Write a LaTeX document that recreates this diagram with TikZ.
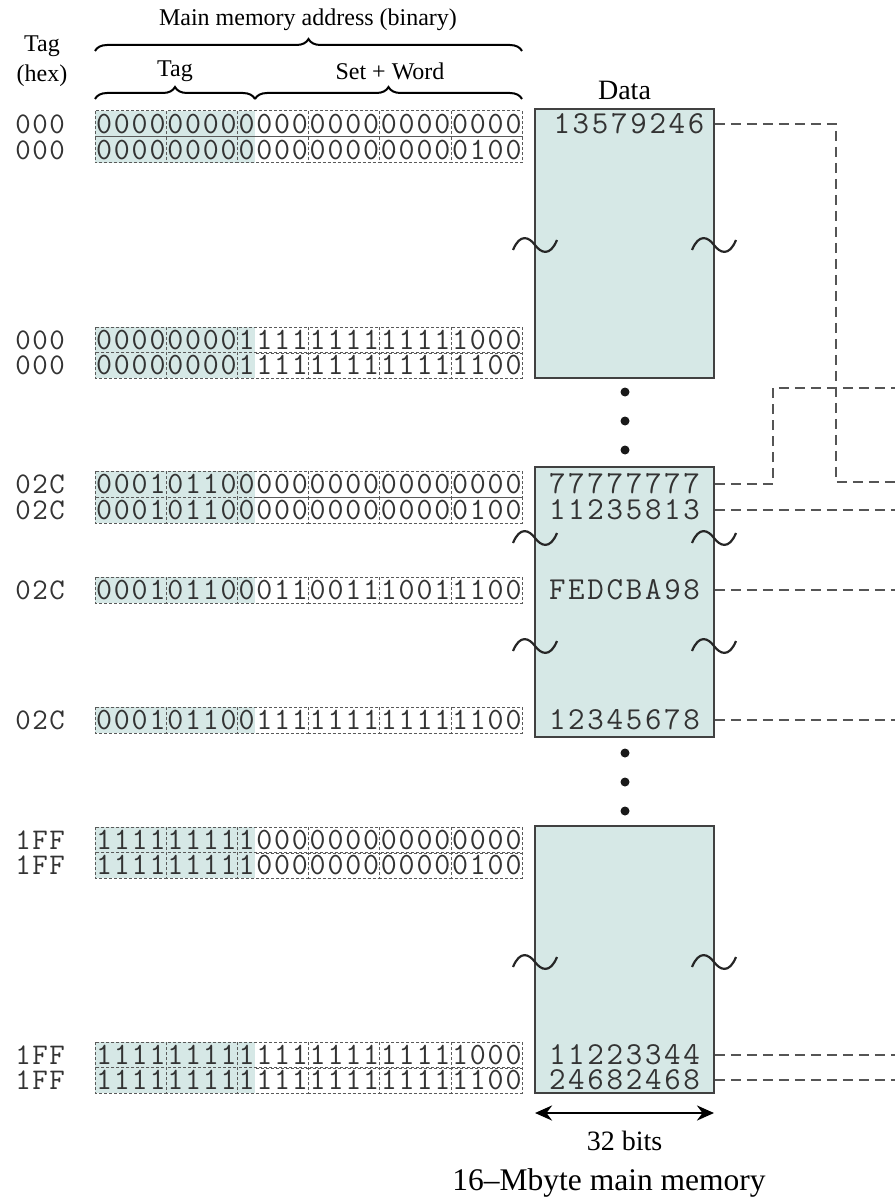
\documentclass[tikz,border=0pt]{standalone}
\usepackage{fontspec}
\setmainfont{Liberation Serif}
\usetikzlibrary{decorations.pathreplacing,arrows.meta}
\definecolor{shadefill}{RGB}{214,232,230}
\definecolor{boxline}{RGB}{65,65,65}
\definecolor{linkgray}{RGB}{85,85,85}
\definecolor{dotgray}{RGB}{90,90,90}

% spread characters in fixed-width cells
\newcommand\spc[2]{\def\spcw{#1}\spcaux#2\relax}
\def\spcaux#1{\ifx#1\relax\else\makebox[\spcw pt]{#1}\expandafter\spcaux\fi}

\tikzset{
  bits/.style={inner sep=0pt, anchor=west, text=black!80, font=\ttfamily\fontsize{31}{31}\selectfont},
  hex/.style={inner sep=0pt, text=black!80, font=\ttfamily\fontsize{30}{30}\selectfont},
  datatxt/.style={inner sep=0pt, text=black!80, font=\ttfamily\fontsize{32}{32}\selectfont},
  dotbox/.style={draw=dotgray, line width=1pt, dash pattern=on 3pt off 2pt},
  membox/.style={draw=boxline, line width=1.8pt, fill=shadefill, inner sep=0pt, minimum width=179pt},
  link/.style={draw=linkgray, line width=1.5pt, dash pattern=on 10pt off 6pt},
  tildestyle/.style={draw=black!85, line width=2.2pt},
  brc/.style={draw=black, line width=2pt, decorate, decoration={brace, amplitude=12pt}},
  lbl/.style={inner sep=0pt, font=\fontsize{24}{24}\selectfont},
  biglbl/.style={inner sep=0pt, font=\fontsize{31.5}{31.5}\selectfont},
}

\newcommand\addrrow[4]{%
  \fill[shadefill] (95,#1-13) rectangle (255.2,#1+13);
  \node[bits] (#4) at (95,#1) {\spc{17.8}{#2}};
  \node[hex] (#4h) at (40,#1) {\spc{17}{#3}};
  \foreach \k in {0,...,5} {\draw[dotbox] (95+\k*71.2,#1-13) rectangle (95+\k*71.2+71.2,#1+13);}
}
\newcommand\tld[2]{\draw[tildestyle] (#1-22,#2+5) .. controls (#1-15,#2-12) and (#1-6,#2-8) .. (#1,#2) .. controls (#1+6,#2+8) and (#1+15,#2+12) .. (#1+22,#2-5);}

\begin{document}
\begin{tikzpicture}[x=1pt,y=-1pt]
\useasboundingbox (0,0) rectangle (895,1198);

% header labels
\node[lbl] (hdr) at (308,20) {Main memory address (binary)};
\node[lbl] (tagtop) at (42,46) {Tag};
\node[lbl] (hexlbl) at (42,76) {(hex)};
\node[lbl] (taglbl) at (175,71) {Tag};
\node[lbl] (swlbl) at (390,71) {Set + Word};
\node[biglbl, font=\fontsize{28}{28}\selectfont] (datalbl) at (624.5,90) {Data};
\draw[brc] (95,51) -- (522,51);
\draw[brc] (95,99) -- (255,99);
\draw[brc] (255,99) -- (522,99);

% memory blocks
\node[membox, minimum height=269pt] (m1) at (624.5,243.5) {};
\node[membox, minimum height=270pt] (m2) at (624.5,602) {};
\node[membox, minimum height=267pt] (m3) at (624.5,959.5) {};

% address rows
\addrrow{124}{000000000000000000000000}{000}{a1}
\addrrow{150}{000000000000000000000100}{000}{a2}
\addrrow{340}{000000001111111111111000}{000}{a3}
\addrrow{365}{000000001111111111111100}{000}{a4}
\addrrow{484}{000101100000000000000000}{02C}{a5}
\addrrow{510}{000101100000000000000100}{02C}{a6}
\addrrow{590}{000101100011001110011100}{02C}{a7}
\addrrow{720}{000101100111111111111100}{02C}{a8}
\addrrow{840}{111111111000000000000000}{1FF}{a9}
\addrrow{865}{111111111000000000000100}{1FF}{a10}
\addrrow{1055}{111111111111111111111000}{1FF}{a11}
\addrrow{1080}{111111111111111111111100}{1FF}{a12}

% data words
\node[datatxt] (d1) at (629,124) {\spc{19.2}{13579246}};
\node[datatxt] (d5) at (624.5,484) {\spc{19.2}{77777777}};
\node[datatxt] (d6) at (624.5,510) {\spc{19.2}{11235813}};
\node[datatxt] (d7) at (624.5,590) {\spc{19.2}{FEDCBA98}};
\node[datatxt] (d8) at (624.5,720) {\spc{19.2}{12345678}};
\node[datatxt] (d11) at (624.5,1055) {\spc{19.2}{11223344}};
\node[datatxt] (d12) at (624.5,1080) {\spc{19.2}{24682468}};

% break marks
\tld{535}{245} \tld{714}{245}
\tld{535}{538} \tld{714}{538}
\tld{535}{646} \tld{714}{646}
\tld{535}{962} \tld{714}{962}

% ellipsis dots
\foreach \yy in {392,421,450,753,782,811} {\fill[black!90] (625,\yy) circle (4.5);}

% dashed connectors
\coordinate (k1) at (836,482);
\coordinate (e1) at (895,482);
\coordinate (k2) at (773,388);
\coordinate (e2) at (895,388);
\draw[link] (m1.east |- d1) -| (k1) -- (e1);
\draw[link] (m2.east |- d5) -| (k2) -- (e2);
\draw[link] (m2.east |- d6) -- (d6 -| e1);
\draw[link] (m2.east |- d7) -- (d7 -| e1);
\draw[link] (m2.east |- d8) -- (d8 -| e1);
\draw[link] (m3.east |- d11) -- (d11 -| e1);
\draw[link] (m3.east |- d12) -- (d12 -| e1);

% width arrow and captions
\coordinate (wl) at (535,1113);
\coordinate (wr) at (714,1113);
\draw[line width=2.8pt, {Stealth[length=17pt,width=15pt]}-{Stealth[length=17pt,width=15pt]}] (wl) -- (wr);
\node[biglbl, font=\fontsize{28}{28}\selectfont] (bitslbl) at (624.5,1141) {32 bits};
\node[biglbl] (memlbl) at (609,1183) {16–Mbyte main memory};
\end{tikzpicture}
\end{document}
